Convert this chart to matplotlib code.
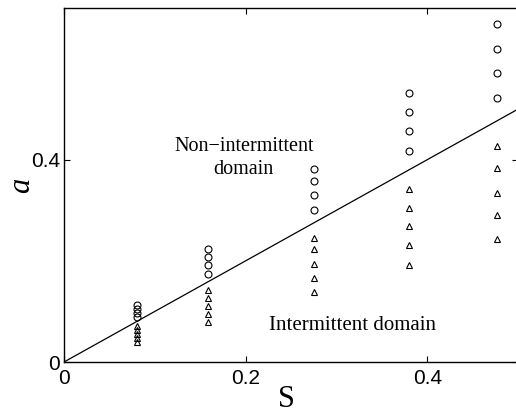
import matplotlib
matplotlib.use('Agg')
import matplotlib.pyplot as plt

# column positions (S) and measured a values
s_vals = [0.080, 0.159, 0.275, 0.380, 0.477]
circles = [
    [0.088, 0.096, 0.104, 0.112],
    [0.175, 0.191, 0.207, 0.223],
    [0.300, 0.330, 0.357, 0.382],
    [0.418, 0.457, 0.495, 0.532],
    [0.522, 0.571, 0.619, 0.668],
]
triangles = [
    [0.040, 0.048, 0.056, 0.064, 0.072],
    [0.080, 0.095, 0.111, 0.127, 0.143],
    [0.138, 0.167, 0.193, 0.223, 0.246],
    [0.191, 0.231, 0.268, 0.305, 0.343],
    [0.244, 0.290, 0.335, 0.384, 0.428],
]
line_s = [0.0, 0.5]
line_a = [0.0, 0.5]

fig = plt.figure(figsize=(5.16, 4.16), dpi=100)
ax = fig.add_axes([64/516, 54/416, 454/516, 354/416])

ax.plot(line_s, line_a, 'k-', lw=0.9)
for s, cs, ts in zip(s_vals, circles, triangles):
    ax.plot([s]*len(cs), cs, 'o', mfc='none', mec='k', ms=5, mew=0.8)
    ax.plot([s]*len(ts), ts, '^', mfc='none', mec='k', ms=5, mew=0.8)

ax.set_xlim(0, 0.5)
ax.set_ylim(0, 0.7)
ax.set_xticks([0, 0.2, 0.4])
ax.set_xticklabels(['0', '0.2', '0.4'])
ax.set_yticks([0, 0.4])
ax.set_yticklabels(['0', '0.4'])
ax.tick_params(direction='in', length=4, labelsize=15, top=True, right=True)
ax.tick_params(axis='x', pad=5)
ax.tick_params(axis='y', pad=3)
for lab in ax.get_xticklabels() + ax.get_yticklabels():
    lab.set_family('Liberation Sans')
for sp in ax.spines.values():
    sp.set_linewidth(1.0)

ax.set_xlabel('S', family='Liberation Serif', fontsize=22)
ax.xaxis.set_label_coords(0.49, -0.065)
ax.set_ylabel('a', family='Liberation Serif', style='italic', fontsize=22)
ax.yaxis.set_label_coords(-0.062, 0.5)

ax.text(0.198, 0.403, 'Non\u2212intermittent\ndomain', family='Liberation Serif', fontsize=14.5,
        ha='center', va='center', linespacing=1.25)
ax.text(0.318, 0.073, 'Intermittent domain', family='Liberation Serif', fontsize=15,
        ha='center', va='center')

fig.savefig('out.png', dpi=100)
